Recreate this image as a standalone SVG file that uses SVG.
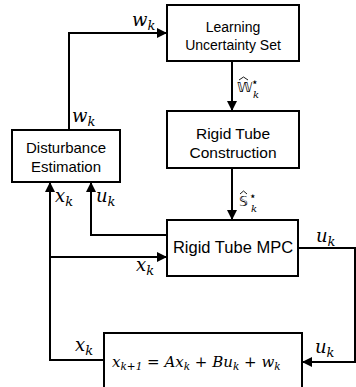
<svg xmlns="http://www.w3.org/2000/svg" width="356" height="387" viewBox="0 0 356 387">
<style>
.box{fill:#fff;stroke:#000;stroke-width:2}
.t{font-family:"Liberation Sans",Arial,sans-serif;fill:#000;text-anchor:middle}
.m{font-family:"DejaVu Serif","Liberation Serif",serif;font-style:italic;fill:#000;font-size:18px}
.c{fill:none;stroke:#000;stroke-width:2}
.eq{font-family:"DejaVu Serif","Liberation Serif",serif;font-style:italic;fill:#000;font-size:15px}
.ds{font-family:"DejaVu Sans",sans-serif;fill:#000;font-size:14px}
.sup{font-family:"DejaVu Sans",sans-serif;fill:#000;font-size:12px}
.sub{font-family:"DejaVu Serif",serif;font-style:italic;fill:#000;font-size:10px}
</style>
<defs>
<marker id="ah" markerWidth="10" markerHeight="10" refX="9" refY="5" orient="auto" markerUnits="userSpaceOnUse">
<path d="M0,0 L10,5 L0,10 Z" fill="#000"/>
</marker>
</defs>
<g id="connectors">
<path class="c" d="M69,130 V33 H166" marker-end="url(#ah)"/>
<path class="c" d="M232,61 V110" marker-end="url(#ah)"/>
<path class="c" d="M232,168 V219" marker-end="url(#ah)"/>
<path class="c" d="M298,248 H355 V362 H303" marker-end="url(#ah)"/>
<path class="c" d="M104,360 H50 V183" marker-end="url(#ah)"/>
<path class="c" d="M50,257 H166" marker-end="url(#ah)"/>
<path class="c" d="M167,235 H91 V183" marker-end="url(#ah)"/>
</g>
<g id="learning">
<rect class="box" x="167" y="5" width="132" height="56"/>
<text class="t" x="233" y="32" font-size="14">Learning</text>
<text class="t" x="233" y="50" font-size="14">Uncertainty Set</text>
</g>
<g id="construction">
<rect class="box" x="167" y="111" width="132" height="57"/>
<text class="t" x="233" y="139" font-size="15.5">Rigid Tube</text>
<text class="t" x="233" y="158" font-size="15.5">Construction</text>
</g>
<g id="mpc">
<rect class="box" x="167" y="220" width="131" height="56"/>
<text class="t" x="233" y="253" font-size="16.5">Rigid Tube MPC</text>
</g>
<g id="estimation">
<rect class="box" x="12" y="130" width="108" height="52"/>
<text class="t" x="66" y="153" font-size="15">Disturbance</text>
<text class="t" x="66" y="172" font-size="15">Estimation</text>
</g>
<g id="system">
<rect class="box" x="104" y="333" width="198" height="70"/>
<text class="eq" x="112" y="367">x<tspan dy="3" font-size="10.5">k+1</tspan><tspan dy="-3" font-style="normal"> = </tspan>Ax<tspan dy="3" font-size="10.5">k</tspan><tspan dy="-3" font-style="normal"> + </tspan>Bu<tspan dy="3" font-size="10.5">k</tspan><tspan dy="-3" font-style="normal"> + </tspan>w<tspan dy="3" font-size="10.5">k</tspan></text>
</g>
<g id="labels">
<text class="m" x="132" y="26">w<tspan dy="4" font-size="13">k</tspan></text>
<text class="m" x="72" y="122">w<tspan dy="4" font-size="13">k</tspan></text>
<text class="m" x="55" y="202">x<tspan dy="4" font-size="13">k</tspan></text>
<text class="m" x="96" y="202">u<tspan dy="4" font-size="13">k</tspan></text>
<text class="m" x="136" y="271">x<tspan dy="4" font-size="13">k</tspan></text>
<text class="m" x="75" y="351">x<tspan dy="4" font-size="13">k</tspan></text>
<text class="m" x="316" y="242">u<tspan dy="4" font-size="13">k</tspan></text>
<text class="m" x="315" y="353">u<tspan dy="4" font-size="13">k</tspan></text>
<text class="ds" x="237" y="92">𝕎</text>
<text class="sup" x="251" y="86">⋆</text>
<text class="sub" x="253" y="98">k</text>
<path d="M239,80 L243.5,77 L248,80" fill="none" stroke="#000" stroke-width="0.9"/>
<text class="ds" x="239" y="206">𝕊</text>
<text class="sup" x="249" y="200">⋆</text>
<text class="sub" x="251" y="212">k</text>
<path d="M240,194 L243.5,191 L247,194" fill="none" stroke="#000" stroke-width="0.9"/>
</g>
</svg>
